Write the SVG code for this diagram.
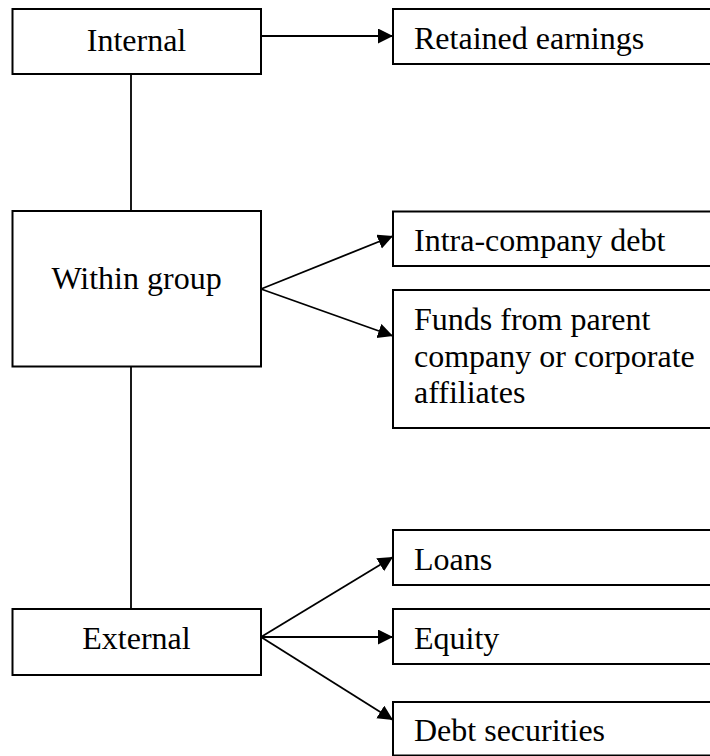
<svg xmlns="http://www.w3.org/2000/svg" width="710" height="756" viewBox="0 0 710 756">
<style>
.box{fill:#fff;stroke:#000;stroke-width:2}
.t{font-family:"Liberation Serif","Times New Roman",serif;font-size:32px;fill:#000}
.c{text-anchor:middle}
.ln{fill:none;stroke:#000;stroke-width:1.8}
</style>
<defs>
<marker id="ah" markerUnits="userSpaceOnUse" markerWidth="16" markerHeight="16" refX="15" refY="7.5" orient="auto">
<path d="M0,0 L15,7.5 L0,15 z" fill="#000"/>
</marker>
</defs>
<rect width="710" height="756" fill="#fff"/>
<g id="connectors">
<line class="ln" x1="261" y1="36" x2="393" y2="36" marker-end="url(#ah)"/>
<line class="ln" x1="131" y1="74" x2="131" y2="211"/>
<line class="ln" x1="131" y1="366" x2="131" y2="609"/>
<line class="ln" x1="261" y1="289" x2="393" y2="236" marker-end="url(#ah)"/>
<line class="ln" x1="261" y1="289" x2="393" y2="336" marker-end="url(#ah)"/>
<line class="ln" x1="261" y1="637" x2="393" y2="557" marker-end="url(#ah)"/>
<line class="ln" x1="261" y1="637" x2="393" y2="637" marker-end="url(#ah)"/>
<line class="ln" x1="261" y1="637" x2="393" y2="720" marker-end="url(#ah)"/>
</g>
<g id="internal">
<rect class="box" x="12.5" y="9" width="248.5" height="65"/>
<text class="t c" x="136.5" y="51">Internal</text>
</g>
<g id="retained">
<rect class="box" x="393" y="9" width="330" height="55"/>
<text class="t" x="414" y="49">Retained earnings</text>
</g>
<g id="within">
<rect class="box" x="12.5" y="211" width="248.5" height="155.5"/>
<text class="t c" x="136.5" y="288.5">Within group</text>
</g>
<g id="intra">
<rect class="box" x="393" y="211.5" width="330" height="54.5"/>
<text class="t" x="414" y="251">Intra-company debt</text>
</g>
<g id="funds">
<rect class="box" x="393" y="290" width="330" height="138"/>
<text class="t" x="414" y="330">Funds from parent</text>
<text class="t" x="414" y="366.5">company or corporate</text>
<text class="t" x="414" y="403">affiliates</text>
</g>
<g id="external">
<rect class="box" x="12.5" y="609" width="248.5" height="66"/>
<text class="t c" x="136.5" y="649">External</text>
</g>
<g id="loans">
<rect class="box" x="393" y="530" width="330" height="55"/>
<text class="t" x="414" y="570">Loans</text>
</g>
<g id="equity">
<rect class="box" x="393" y="609" width="330" height="55"/>
<text class="t" x="414" y="649">Equity</text>
</g>
<g id="debtsec">
<rect class="box" x="393" y="702" width="330" height="53.5"/>
<text class="t" x="414" y="741">Debt securities</text>
</g>
</svg>
